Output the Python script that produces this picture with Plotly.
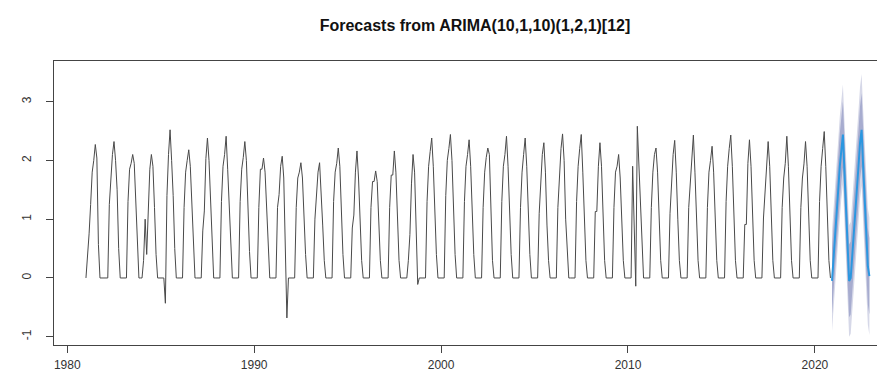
import numpy as np
import plotly.graph_objects as go

title_text = "Forecasts from ARIMA(10,1,10)(1,2,1)[12]"
start_year = 1981

# Observed monthly series, Jan..Dec of each year (2020 ends in November)
y1981 = [0.00, 0.35, 0.75, 1.25, 1.80, 2.00, 2.27, 2.04, 0.57, 0.00, 0.00, 0.00]
y1982 = [0.00, 0.00, 0.00, 1.25, 1.80, 2.10, 2.32, 2.00, 1.50, 0.50, 0.00, 0.00]
y1983 = [0.00, 0.00, 0.00, 1.30, 1.85, 1.95, 2.10, 1.95, 1.30, 0.50, 0.00, 0.00]
y1984 = [0.00, 0.30, 1.00, 0.40, 1.30, 1.85, 2.10, 1.90, 1.20, 0.40, 0.00, 0.00]
y1985 = [0.00, 0.00, 0.00, -0.43, 1.40, 2.10, 2.52, 2.00, 1.40, 0.50, 0.00, 0.00]
y1986 = [0.00, 0.00, 0.00, 1.20, 1.80, 2.00, 2.18, 1.90, 1.20, 0.45, 0.00, 0.00]
y1987 = [0.00, 0.00, 0.00, 0.80, 1.14, 2.03, 2.38, 2.00, 1.30, 0.50, 0.00, 0.00]
y1988 = [0.00, 0.00, 0.00, 1.30, 1.90, 2.10, 2.41, 1.84, 1.20, 0.50, 0.00, 0.00]
y1989 = [0.00, 0.00, 0.00, 1.30, 1.85, 2.05, 2.32, 2.00, 1.20, 0.45, 0.00, 0.00]
y1990 = [0.00, 0.00, 0.00, 1.20, 1.85, 1.85, 2.04, 1.80, 1.20, 0.35, 0.00, 0.00]
y1991 = [0.00, 0.00, 0.00, 1.20, 1.42, 1.90, 2.07, 1.70, 0.40, -0.68, 0.00, 0.00]
y1992 = [0.00, 0.00, 0.00, 1.20, 1.70, 1.80, 1.96, 1.70, 1.00, 0.40, 0.00, 0.00]
y1993 = [0.00, 0.00, 0.00, 1.00, 1.36, 1.80, 1.96, 1.50, 0.90, 0.30, 0.00, 0.00]
y1994 = [0.00, 0.00, 0.00, 1.30, 1.80, 1.95, 2.21, 1.90, 1.10, 0.40, 0.00, 0.00]
y1995 = [0.00, 0.00, 0.00, 0.85, 1.07, 1.80, 2.16, 1.70, 0.90, 0.30, 0.00, 0.00]
y1996 = [0.00, 0.00, 0.00, 1.20, 1.64, 1.64, 1.82, 1.64, 0.90, 0.30, 0.00, 0.00]
y1997 = [0.00, 0.00, 0.00, 1.20, 1.75, 1.75, 2.16, 1.80, 1.00, 0.30, 0.00, 0.00]
y1998 = [0.00, 0.00, 0.00, 0.30, 0.74, 1.60, 2.10, 1.80, 0.80, -0.11, 0.00, 0.00]
y1999 = [0.00, 0.00, 0.00, 1.30, 1.90, 2.15, 2.38, 1.90, 1.10, 0.40, 0.00, 0.00]
y2000 = [0.00, 0.00, 0.00, 1.40, 2.00, 2.20, 2.44, 2.00, 1.10, 0.40, 0.00, 0.00]
y2001 = [0.00, 0.00, 0.00, 1.30, 1.90, 2.10, 2.35, 1.90, 1.10, 0.40, 0.00, 0.00]
y2002 = [0.00, 0.00, 0.00, 1.20, 1.80, 2.05, 2.21, 2.10, 1.00, 0.30, 0.00, 0.00]
y2003 = [0.00, 0.00, 0.00, 1.30, 1.90, 2.10, 2.41, 1.90, 1.00, 0.40, 0.00, 0.00]
y2004 = [0.00, 0.00, 0.00, 1.20, 1.80, 2.10, 2.38, 1.90, 1.00, 0.40, 0.00, 0.00]
y2005 = [0.00, 0.00, 0.00, 1.10, 1.70, 2.10, 2.30, 1.80, 0.90, 0.30, 0.00, 0.00]
y2006 = [0.00, 0.00, 0.00, 1.20, 1.80, 2.20, 2.45, 2.00, 1.00, 0.40, 0.00, 0.00]
y2007 = [0.00, 0.00, 0.00, 1.30, 1.90, 2.20, 2.44, 1.80, 0.90, 0.30, 0.00, 0.00]
y2008 = [0.00, 0.00, 0.00, 1.13, 1.13, 1.90, 2.30, 1.90, 0.90, 0.30, 0.00, 0.00]
y2009 = [0.00, 0.00, 0.00, 1.20, 1.80, 1.90, 2.10, 1.70, 0.90, 0.30, 0.00, 0.00]
y2010 = [0.00, 0.00, 0.00, 1.90, 0.60, -0.14, 2.58, 1.90, 1.25, 0.40, 0.00, 0.00]
y2011 = [0.00, 0.00, 0.00, 1.20, 1.80, 2.10, 2.21, 1.80, 1.00, 0.30, 0.00, 0.00]
y2012 = [0.00, 0.00, 0.00, 1.10, 1.70, 2.10, 2.34, 1.80, 1.00, 0.30, 0.00, 0.00]
y2013 = [0.00, 0.00, 0.00, 1.20, 1.64, 2.10, 2.43, 1.80, 1.00, 0.30, 0.00, 0.00]
y2014 = [0.00, 0.00, 0.00, 1.20, 1.80, 2.00, 2.24, 1.80, 1.00, 0.30, 0.00, 0.00]
y2015 = [0.00, 0.00, 0.00, 1.30, 1.90, 2.20, 2.43, 1.90, 1.00, 0.30, 0.00, 0.00]
y2016 = [0.00, 0.00, 0.00, 0.91, 0.91, 1.95, 2.35, 1.90, 1.00, 0.30, 0.00, 0.00]
y2017 = [0.00, 0.00, 0.00, 1.02, 1.40, 1.90, 2.32, 1.90, 1.00, 0.30, 0.00, 0.00]
y2018 = [0.00, 0.00, 0.00, 1.20, 1.70, 1.95, 2.41, 1.90, 1.00, 0.30, 0.00, 0.00]
y2019 = [0.00, 0.00, 0.00, 1.20, 1.70, 1.94, 2.32, 1.90, 1.00, 0.30, 0.00, 0.00]
y2020 = [0.00, 0.00, 0.00, 1.30, 1.90, 2.20, 2.49, 1.90, 1.00, 0.30, 0.00]

series_rows = [y1981, y1982, y1983, y1984, y1985, y1986, y1987, y1988, y1989, y1990,
               y1991, y1992, y1993, y1994, y1995, y1996, y1997, y1998, y1999, y2000,
               y2001, y2002, y2003, y2004, y2005, y2006, y2007, y2008, y2009, y2010,
               y2011, y2012, y2013, y2014, y2015, y2016, y2017, y2018, y2019, y2020]

# Forecast Dec 2020 .. Dec 2022
fc_mean = [-0.05, 0.30, 0.70, 1.10, 1.50, 1.90, 2.20, 2.44, 1.80, 1.10, 0.50, -0.05,
           0.00, 0.35, 0.70, 1.10, 1.50, 1.90, 2.30, 2.52, 1.90, 1.30, 0.70, 0.20, 0.03]
fc_lo80 = [-0.61, -0.26, 0.14, 0.54, 0.94, 1.34, 1.64, 1.88, 1.23, 0.51, -0.10, -0.67,
           -0.62, -0.27, 0.08, 0.48, 0.88, 1.28, 1.68, 1.90, 1.27, 0.67, 0.06, -0.45, -0.62]
fc_hi80 = [0.51, 0.86, 1.26, 1.66, 2.06, 2.46, 2.76, 3.00, 2.37, 1.69, 1.10, 0.57,
           0.62, 0.97, 1.32, 1.72, 2.12, 2.52, 2.92, 3.14, 2.53, 1.93, 1.34, 0.85, 0.68]
fc_lo95 = [-0.90, -0.55, -0.15, 0.25, 0.65, 1.05, 1.35, 1.59, 0.93, 0.20, -0.42, -1.00,
           -0.95, -0.60, -0.25, 0.15, 0.55, 0.95, 1.35, 1.57, 0.94, 0.33, -0.28, -0.79, -0.97]
fc_hi95 = [0.80, 1.15, 1.55, 1.95, 2.35, 2.75, 3.05, 3.29, 2.67, 2.00, 1.42, 0.90,
           0.95, 1.30, 1.65, 2.05, 2.45, 2.85, 3.25, 3.47, 2.86, 2.27, 1.68, 1.19, 1.03]

x_ticks = [1980, 1990, 2000, 2010, 2020]
y_ticks = [-1, 0, 1, 2, 3]

observed = [v for row in series_rows for v in row]
n_obs = len(observed)
t_obs = start_year + np.arange(n_obs) / 12.0
t_fc = start_year + (n_obs + np.arange(len(fc_mean))) / 12.0
t_poly = list(t_fc) + list(t_fc[::-1])

fig = go.Figure()
fig.add_trace(go.Scatter(x=t_obs, y=observed, mode="lines",
                         line=dict(color="#4a4a4a", width=1), showlegend=False,
                         hoverinfo="skip"))
fig.add_trace(go.Scatter(x=t_poly, y=fc_hi95 + fc_lo95[::-1], mode="lines",
                         fill="toself", fillcolor="#D6D8E8", line=dict(width=0),
                         showlegend=False, hoverinfo="skip"))
fig.add_trace(go.Scatter(x=t_poly, y=fc_hi80 + fc_lo80[::-1], mode="lines",
                         fill="toself", fillcolor="#A7ACCF", line=dict(width=0),
                         showlegend=False, hoverinfo="skip"))
fig.add_trace(go.Scatter(x=t_fc, y=fc_mean, mode="lines",
                         line=dict(color="#2B97E0", width=2), showlegend=False,
                         hoverinfo="skip"))

axis_font = dict(family="Liberation Sans, Arial, sans-serif", size=12, color="#333333")
fig.update_layout(
    width=885, height=381,
    margin=dict(l=46, r=0, t=53, b=44),
    paper_bgcolor="white", plot_bgcolor="white",
    title=dict(text="<b>" + title_text + "</b>", x=467 / 885, xref="container",
               xanchor="center", y=1 - 17 / 381, yref="container", yanchor="middle",
               font=dict(family="Liberation Sans, Arial, sans-serif", size=16, color="#111111")),
    xaxis=dict(range=[1979.29, 2024.18], tickmode="array", tickvals=x_ticks,
               ticktext=[str(v) for v in x_ticks], ticks="outside", ticklen=7,
               tickcolor="#444444", showline=True, linecolor="#444444", linewidth=1,
               mirror=True, showgrid=False, zeroline=False, tickfont=axis_font,
               ticklabelstandoff=2),
    yaxis=dict(range=[-1.14, 3.69], tickmode="array", tickvals=y_ticks,
               ticktext=[str(v) for v in y_ticks], ticks="outside", ticklen=7,
               tickcolor="#444444", showline=True, linecolor="#444444", linewidth=1,
               mirror=False, showgrid=False, zeroline=False, tickfont=axis_font,
               tickangle=-90, ticklabelstandoff=10),
)

fig.write_html("out.html")
